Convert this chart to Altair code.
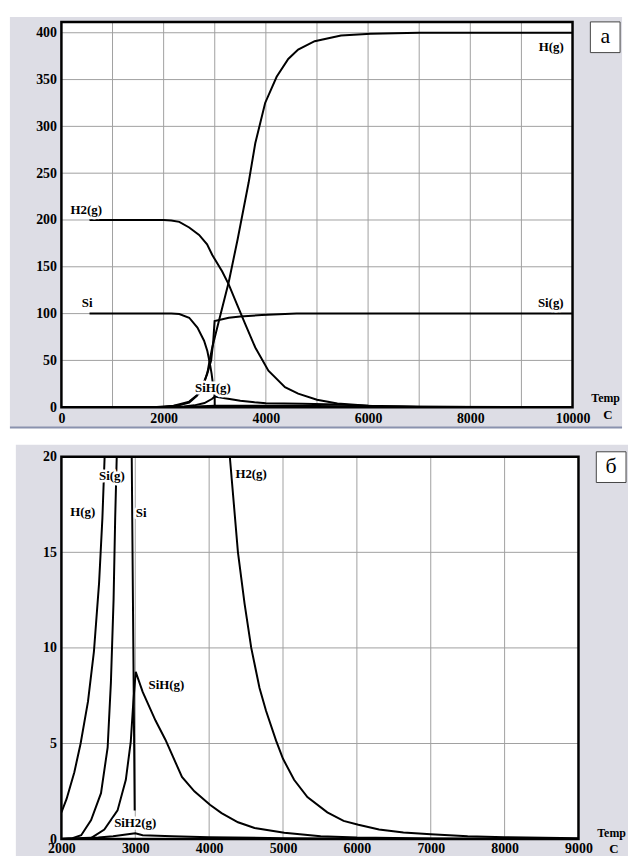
import altair as alt
import pandas as pd

FONT = "Liberation Serif"
GRAY = "#dddde5"
GRID = "#a0a0a0"

# ---------------- panel a (0..10000 C, 0..400) ----------------
A_H2_T = [550, 2000, 2150, 2306, 2500, 2694, 2850, 2952, 3146, 3275, 3437, 3599, 3793, 4050, 4374, 4632, 5000, 5400, 6000, 7000, 8000, 10000]
A_H2_V = [200, 200, 199.5, 198, 192, 184, 174, 162.6, 145, 131, 109.7, 88.6, 63.8, 39, 21.5, 14.5, 8, 4, 1.5, 0.5, 0.2, 0.1]
A_H_T = [550, 1800, 2200, 2500, 2700, 2800, 2860, 2900, 2952, 3081, 3275, 3450, 3663, 3793, 3986, 4211, 4438, 4632, 4955, 5471, 6053, 7000, 10000]
A_H_V = [0, 0, 1.5, 6, 15, 27, 38, 50, 64, 92, 134, 180, 240, 282, 325, 353, 372, 382, 391, 397, 399, 400, 400]
A_SI_T = [550, 2000, 2151, 2306, 2500, 2661, 2791, 2855, 2900, 2939, 2975, 2998, 3000]
A_SI_V = [100, 100, 100, 99.5, 95.6, 85, 71, 60, 48, 35.6, 20, 11, 0]
A_SIG_T = [550, 2000, 2300, 2500, 2650, 2750, 2850, 2930, 2970, 2997, 3275, 3500, 3920, 4600, 10000]
A_SIG_V = [0, 0.3, 2, 5, 12, 22, 35, 50, 70, 92, 95.6, 97, 98.5, 100, 100]
A_SIH_T = [550, 2000, 2400, 2600, 2800, 2950, 3000, 3200, 3500, 3779, 4000, 4709, 5400, 6200, 7000, 10000]
A_SIH_V = [0, 0.1, 0.7, 2, 4.5, 9, 11.5, 9.5, 7, 5.2, 4.2, 3.6, 2.8, 1, 0.4, 0.1]
A_SIH2_T = [550, 2000, 2500, 3000, 4000, 5000, 6000, 6200, 7000, 10000]
A_SIH2_V = [0, 0, 0.5, 1.5, 1.5, 1.2, 0.8, 0.5, 0.2, 0]

A_LAB = ["H2(g)", "Si", "Si(g)", "H(g)", "SiH(g)"]
A_LAB_T = [485, 504, 9574, 9583, 2965]
A_LAB_V = [210.6, 111, 111, 385, 20]

A_XLABELS = [0, 2000, 4000, 6000, 8000, 10000]
A_XGRID = [1000, 2000, 3000, 4000, 5000, 6000, 7000, 8000, 9000]
A_YTICKS = [0, 50, 100, 150, 200, 250, 300, 350, 400]
A_YGRID = [50, 100, 150, 200, 250, 300, 350, 400]

# ---------------- panel b (2000..9000 C, 0..20) ----------------
B_H_T = [2000, 2070, 2175, 2260, 2360, 2440, 2510, 2555, 2585, 2620]
B_H_V = [1.4, 2.1, 3.5, 5.0, 7.2, 9.8, 13.4, 16.8, 20.0, 24]
B_SIG_T = [2000, 2150, 2268, 2402, 2536, 2626, 2670, 2706, 2728, 2751, 2775]
B_SIG_V = [0.0, 0.05, 0.2, 1.0, 2.4, 4.8, 8.2, 12.5, 16.8, 20.3, 25]
B_SI_T = [2935, 2952, 2992]
B_SI_V = [30, 20, 1.5]
B_SIH_T = [2000, 2200, 2400, 2581, 2760, 2872, 2939, 2974, 3006, 3100, 3274, 3408, 3632, 3800, 4011, 4168, 4391, 4615, 5017, 5509, 6000, 7000, 9000]
B_SIH_V = [0, 0.01, 0.05, 0.5, 1.5, 3.1, 5.1, 7.2, 8.75, 7.7, 6.2, 5.2, 3.25, 2.5, 1.8, 1.36, 0.88, 0.58, 0.33, 0.15, 0.08, 0.03, 0]
B_H2_T = [4200, 4280, 4390, 4480, 4570, 4682, 4771, 4906, 5000, 5150, 5330, 5600, 5820, 6020, 6300, 6630, 7000, 7500, 8000, 9000]
B_H2_V = [30, 20, 15, 12.3, 10, 7.9, 6.7, 5.15, 4.2, 3.1, 2.2, 1.4, 0.95, 0.75, 0.5, 0.35, 0.25, 0.15, 0.1, 0.05]
B_SIH2_T = [2000, 2500, 2700, 2900, 3000, 3100, 3500, 4000, 5000, 6000, 9000]
B_SIH2_V = [0.02, 0.08, 0.15, 0.25, 0.3, 0.2, 0.15, 0.1, 0.05, 0.02, 0]

B_LAB = ["Si(g)", "H(g)", "Si", "H2(g)", "SiH(g)", "SiH2(g)"]
B_LAB_T = [2684, 2288, 3080, 4568, 3421, 2999]
B_LAB_V = [19.0, 17.1, 17.05, 19.1, 8.08, 0.85]

B_XLABELS = [2000, 3000, 4000, 5000, 6000, 7000, 8000, 9000]
B_XGRID = [3000, 4000, 5000, 6000, 7000, 8000]
B_YTICKS = [0, 5, 10, 15, 20]
B_YGRID = [5, 10, 15]


def long_df(series):
    rows = []
    for name, ts, vs in series:
        for t, v in zip(ts, vs):
            rows.append({"s": name, "T": t, "V": v})
    return pd.DataFrame(rows)


ONE = pd.DataFrame({"k": [0]})


def panel(lines, labels, xdom, ydom, W, H, xlabels, xgrid, yticks, ygrid,
          bg, sep, box, tag, temp_xy, c_xy, xpad, xfs):
    xs = alt.Scale(domain=xdom, nice=False, zero=False)
    ys = alt.Scale(domain=ydom, nice=False, zero=False)
    axis_common = dict(grid=False, ticks=False, domain=False, labelFont=FONT,
                       labelFontWeight="bold", labelColor="black",
                       labelFlush=False, labelOverlap=False, title=None, zindex=1)
    xaxis = alt.Axis(values=xlabels, format="d", labelPadding=xpad, labelFontSize=xfs, **axis_common)
    yaxis = alt.Axis(values=yticks, format="d", labelPadding=5, labelFontSize=14, **axis_common)

    def X(f):
        return alt.X(f, scale=xs, axis=xaxis)

    def Y(f):
        return alt.Y(f, scale=ys, axis=yaxis)

    layers = []
    layers.append(alt.Chart(ONE).mark_rect(color=GRAY).encode(
        x=alt.value(bg[0]), x2=alt.value(bg[1]), y=alt.value(bg[2]), y2=alt.value(bg[3])))
    if sep is not None:
        layers.append(alt.Chart(ONE).mark_rule(color="#8a92ae", strokeWidth=2).encode(
            x=alt.value(bg[0]), x2=alt.value(bg[1]), y=alt.value(sep)))
    layers.append(alt.Chart(ONE).mark_rect(color="white").encode(
        x=alt.value(0), x2=alt.value(W), y=alt.value(0), y2=alt.value(H)))
    layers.append(alt.Chart(pd.DataFrame({"T": xgrid})).mark_rule(color=GRID, strokeWidth=1).encode(
        x=X("T:Q")))
    layers.append(alt.Chart(pd.DataFrame({"V": ygrid})).mark_rule(color=GRID, strokeWidth=1).encode(
        y=Y("V:Q")))
    layers.append(alt.Chart(lines).mark_line(color="black", strokeWidth=2, clip=True).encode(
        x=X("T:Q"), y=Y("V:Q"), detail="s:N"))
    lab_df = pd.DataFrame({"label": labels[0], "T": labels[1], "V": labels[2]})
    enc = dict(x=X("T:Q"), y=Y("V:Q"), text="label:N")
    layers.append(alt.Chart(lab_df).mark_text(font=FONT, fontWeight="bold", fontSize=13,
                                              fill="white", stroke="white", strokeWidth=5,
                                              strokeJoin="round").encode(**enc))
    layers.append(alt.Chart(lab_df).mark_text(font=FONT, fontWeight="bold", fontSize=13,
                                              color="black").encode(**enc))
    layers.append(alt.Chart(ONE).mark_rect(fill="white", fillOpacity=0, stroke="black", strokeWidth=2.5).encode(
        x=alt.value(0), x2=alt.value(W), y=alt.value(0), y2=alt.value(H)))
    layers.append(alt.Chart(ONE).mark_rect(fill="white", stroke="#444444", strokeWidth=1).encode(
        x=alt.value(box[0]), x2=alt.value(box[1]), y=alt.value(box[2]), y2=alt.value(box[3])))
    layers.append(alt.Chart(ONE).mark_text(font=FONT, fontSize=22, color="black", baseline="middle").encode(
        x=alt.value((box[0] + box[1]) / 2), y=alt.value((box[2] + box[3]) / 2 - 1), text=alt.value(tag)))
    layers.append(alt.Chart(ONE).mark_text(font=FONT, fontWeight="bold", fontSize=12, color="black",
                                           align="left", baseline="middle").encode(
        x=alt.value(temp_xy[0]), y=alt.value(temp_xy[1]), text=alt.value("Temp")))
    layers.append(alt.Chart(ONE).mark_text(font=FONT, fontWeight="bold", fontSize=13, color="black",
                                           align="left", baseline="middle").encode(
        x=alt.value(c_xy[0]), y=alt.value(c_xy[1]), text=alt.value("C")))
    return alt.layer(*layers).properties(width=W, height=H)


a_lines = long_df([("H2(g)", A_H2_T, A_H2_V), ("H(g)", A_H_T, A_H_V), ("Si", A_SI_T, A_SI_V),
                   ("Si(g)", A_SIG_T, A_SIG_V), ("SiH(g)", A_SIH_T, A_SIH_V),
                   ("SiH2(g)", A_SIH2_T, A_SIH2_V)])
b_lines = long_df([("H2(g)", B_H2_T, B_H2_V), ("H(g)", B_H_T, B_H_V), ("Si", B_SI_T, B_SI_V),
                   ("Si(g)", B_SIG_T, B_SIG_V), ("SiH(g)", B_SIH_T, B_SIH_V),
                   ("SiH2(g)", B_SIH2_T, B_SIH2_V)])

pa = panel(a_lines, (A_LAB, A_LAB_T, A_LAB_V), [0, 10000], [0, 411.6], 516, 389,
           A_XLABELS, A_XGRID, A_YTICKS, A_YGRID,
           bg=(-52, 566, -5, 409), sep=409.5, box=(534, 564, 0, 31), tag="а",
           temp_xy=(535, 380), c_xy=(547, 397), xpad=4, xfs=14)
pb = panel(b_lines, (B_LAB, B_LAB_T, B_LAB_V), [2000, 9000], [0, 20], 522, 386,
           B_XLABELS, B_XGRID, B_YTICKS, B_YGRID,
           bg=(-46, 572, -12, 403), sep=None, box=(540, 570, -5, 26), tag="б",
           temp_xy=(541, 380), c_xy=(553, 396), xpad=3, xfs=14)

chart = alt.vconcat(pa, pb, spacing=16).resolve_scale(x="independent", y="independent").properties(
    padding={"left": 9, "top": 13, "right": 0, "bottom": 0}, background="white"
).configure_view(stroke=None)

chart.save("out.html", embed_options={"renderer": "svg", "actions": False})
